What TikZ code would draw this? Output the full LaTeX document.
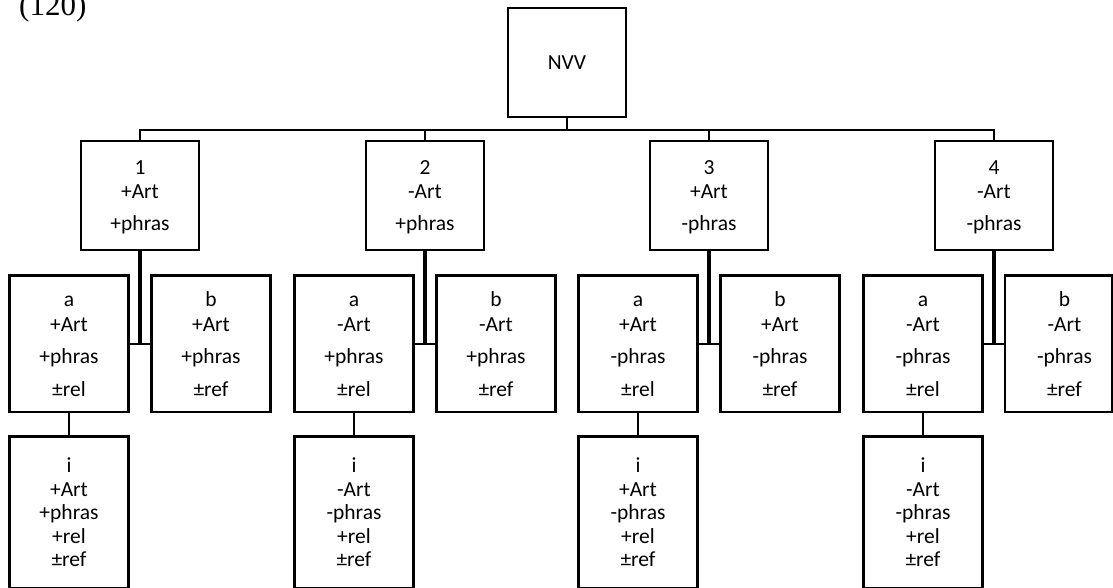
\documentclass[tikz,border=0pt]{standalone}
\usepackage{fontspec}
\setmainfont{Carlito}
\newfontfamily\exnumfont{Liberation Serif}
\newcommand\lastst{\rule[-1.5pt]{0pt}{1pt}}
\begin{document}
\begin{tikzpicture}[x=1pt,y=-1pt,
  box/.style={draw, line width=2.2pt, inner sep=0pt, align=center,
    font=\fontsize{21.5}{24.5}\selectfont},
  topbox/.style={box, minimum width=118pt, minimum height=109pt},
  subbox/.style={box, minimum width=119pt, minimum height=136.5pt},
  leafbox/.style={box, minimum width=119pt, minimum height=152pt,
    font=\fontsize{21.5}{23.5}\selectfont},
  conn/.style={line width=2pt},
  stem/.style={line width=3.2pt},
  txt/.style={inner sep=0pt, align=center, font=\fontsize{21.5}{24.5}\selectfont}
]
\useasboundingbox (0,0) rectangle (1113,587);

\node[anchor=base west, inner sep=0pt, font=\exnumfont\fontsize{31}{31}\selectfont] (ex) at (19,15) {(120)};

\node[topbox] (nvv) at (567,62.5) {NVV};
\coordinate (bus) at (0,130);

% column 1
\node[topbox] (n1) at (140,195.5) {\strut 1\\+Art\\[7.5pt]+phras\lastst};
\node[subbox] (a1) at (69,343.75) {\strut a\\+Art\\[7.5pt]+phras\\[8.5pt]±rel\lastst};
\node[subbox] (b1) at (211,343.75) {\strut b\\+Art\\[7.5pt]+phras\\[8.5pt]±ref\lastst};
\node[leafbox] (i1) at (69,512.5) {\strut i\\+Art\\+phras\\+rel\\±ref\lastst};

% column 2
\node[topbox] (n2) at (425,195.5) {\strut 2\\-Art\\[7.5pt]+phras\lastst};
\node[subbox] (a2) at (354,343.75) {\strut a\\-Art\\[7.5pt]+phras\\[8.5pt]±rel\lastst};
\node[subbox] (b2) at (496,343.75) {\strut b\\-Art\\[7.5pt]+phras\\[8.5pt]±ref\lastst};
\node[leafbox] (i2) at (354,512.5) {\strut i\\-Art\\-phras\\+rel\\±ref\lastst};

% column 3
\node[topbox] (n3) at (709,195.5) {\strut 3\\+Art\\[7.5pt]-phras\lastst};
\node[subbox] (a3) at (638,343.75) {\strut a\\+Art\\[7.5pt]-phras\\[8.5pt]±rel\lastst};
\node[subbox] (b3) at (780,343.75) {\strut b\\+Art\\[7.5pt]-phras\\[8.5pt]±ref\lastst};
\node[leafbox] (i3) at (638,512.5) {\strut i\\+Art\\-phras\\+rel\\±ref\lastst};

% column 4
\node[topbox] (n4) at (994,195.5) {\strut 4\\-Art\\[7.5pt]-phras\lastst};
\node[subbox] (a4) at (923,343.75) {\strut a\\-Art\\[7.5pt]-phras\\[8.5pt]±rel\lastst};
\node[subbox, minimum width=107pt] (b4) at (1058.5,343.75) {};
\node[txt] (b4t) at ([xshift=6pt]b4.center) {\strut b\\-Art\\[7.5pt]-phras\\[8.5pt]±ref\lastst};
\node[leafbox] (i4) at (923,512.5) {\strut i\\-Art\\-phras\\+rel\\±ref\lastst};

% connectors
\draw[conn] (nvv.south) -- (nvv.south |- bus);
\draw[conn] (n1.north) -- (n1.north |- bus) -- (n4.north |- bus) -- (n4.north);
\draw[conn] (n2.north) -- (n2.north |- bus);
\draw[conn] (n3.north) -- (n3.north |- bus);

\foreach \k in {1,2,3,4}{
  \draw[stem] (n\k.south) -- (n\k.south |- a\k.east);
  \draw[conn] (a\k.east) -- (b\k.west);
  \draw[conn] (a\k.south) -- (i\k.north);
}
\end{tikzpicture}
\end{document}
